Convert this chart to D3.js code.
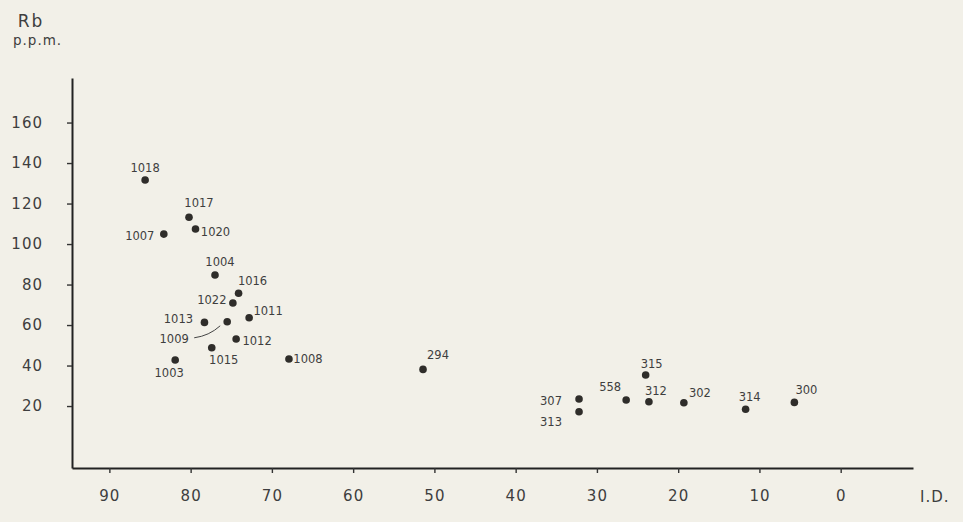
<!DOCTYPE html>
<html>
<head>
<meta charset="utf-8">
<script src="https://cdn.jsdelivr.net/npm/d3@7"></script>
<style>
  body { margin: 0; background: #f2f0e8; }
  svg { display: block; }
  text { font-family: "DejaVu Sans", sans-serif; fill: #3e3e3e; }
</style>
</head>
<body>
<div id="chart"></div>
<script>
// Samples: I.D. (x) against Rb p.p.m. (y)
var samples = ["1018","1017","1020","1007","1004","1016","1022","1011","1013","1009","1012","1015","1003","1008",
               "294","307","313","558","315","312","302","314","300"];
var idValues = [85.6, 80.2, 79.4, 83.3, 77.0, 74.1, 74.8, 72.8, 78.3, 75.5, 74.4, 77.4, 81.9, 67.9,
                51.4, 32.2, 32.2, 26.4, 24.0, 23.6, 19.3, 11.7, 5.7];
var rbValues = [131.6, 113.2, 107.4, 104.9, 84.7, 75.7, 70.9, 63.6, 61.3, 61.6, 53.1, 48.8, 42.7, 43.2,
                38.1, 23.5, 17.2, 23.0, 35.3, 22.1, 21.6, 18.4, 21.8];
var xTicks = [90, 80, 70, 60, 50, 40, 30, 20, 10, 0];
var yTicks = [20, 40, 60, 80, 100, 120, 140, 160];

// label placement (pixel offset of label centre from its dot)
var labelPos = {
  "1018":[0,-12], "1017":[10,-14], "1020":[20,3], "1007":[-24,2], "1004":[5,-13],
  "1016":[14,-12], "1022":[-21,-3], "1011":[19,-7], "1013":[-26,-3], "1009":[-53,17],
  "1012":[21,2], "1015":[12,12], "1003":[-6,13], "1008":[19,0], "294":[15,-14],
  "307":[-28,2], "313":[-28,10], "558":[-16,-13], "315":[6,-11], "312":[7,-11],
  "302":[16,-10], "314":[4,-12], "300":[12,-12]
};

var width = 963, height = 522;

var svg = d3.select("#chart").append("svg")
    .attr("width", width)
    .attr("height", height);

// Scales (I.D. runs right to left)
var x = d3.scaleLinear().domain([94.6, -8.9]).range([72, 913]);
var y = d3.scaleLinear().domain([-10.6, 182]).range([468, 78]);

// Axes
var xAxisCall = d3.axisBottom(x).tickValues(xTicks).tickSizeInner(5).tickSizeOuter(0).tickPadding(17);
var yAxisCall = d3.axisLeft(y).tickValues(yTicks).tickSizeInner(5).tickSizeOuter(0).tickPadding(24);

var xAxis = svg.append("g")
    .attr("transform", "translate(0,468)")
    .call(xAxisCall);
var yAxis = svg.append("g")
    .attr("transform", "translate(72,0)")
    .call(yAxisCall);

[xAxis, yAxis].forEach(function(a){
    a.select(".domain").attr("stroke", "#222").attr("stroke-width", 2);
    a.selectAll(".tick line").attr("stroke", "#333").attr("stroke-width", 1.4);
    a.selectAll(".tick text").attr("font-size", "15px").attr("fill", "#3e3e3e")
        .attr("font-family", "DejaVu Sans, sans-serif")
        .attr("letter-spacing", "1px");
});

// Axis titles
svg.append("text").attr("x", 31).attr("y", 27).attr("text-anchor", "middle")
    .attr("font-size", "17px").attr("letter-spacing", "2px").text("Rb");
svg.append("text").attr("x", 13).attr("y", 45)
    .attr("font-size", "13.5px").attr("letter-spacing", "1px").text("p.p.m.");
svg.append("text").attr("x", 920).attr("y", 502)
    .attr("font-size", "15px").attr("letter-spacing", "1px").text("I.D.");

// Data
var data = samples.map(function(s, i){
    return { name: s, id: idValues[i], rb: rbValues[i] };
});

// leader line for 1009
var d1009 = data.filter(function(d){ return d.name === "1009"; })[0];
svg.append("path")
    .attr("fill", "none")
    .attr("stroke", "#444")
    .attr("stroke-width", 1)
    .attr("d", "M" + (x(d1009.id) - 33) + "," + (y(d1009.rb) + 16) +
               " Q" + (x(d1009.id) - 18) + "," + (y(d1009.rb) + 14) +
               " " + (x(d1009.id) - 7) + "," + (y(d1009.rb) + 4));

svg.selectAll("circle.pt")
    .data(data)
    .enter().append("circle")
    .attr("class", "pt")
    .attr("cx", function(d){ return x(d.id); })
    .attr("cy", function(d){ return y(d.rb); })
    .attr("r", 3.8)
    .attr("fill", "#2f2d2a");

svg.selectAll("text.lbl")
    .data(data)
    .enter().append("text")
    .attr("class", "lbl")
    .attr("x", function(d){ return x(d.id) + labelPos[d.name][0]; })
    .attr("y", function(d){ return y(d.rb) + labelPos[d.name][1]; })
    .attr("text-anchor", "middle")
    .attr("dominant-baseline", "central")
    .attr("font-size", "11.5px")
    .text(function(d){ return d.name; });
</script>
</body>
</html>
